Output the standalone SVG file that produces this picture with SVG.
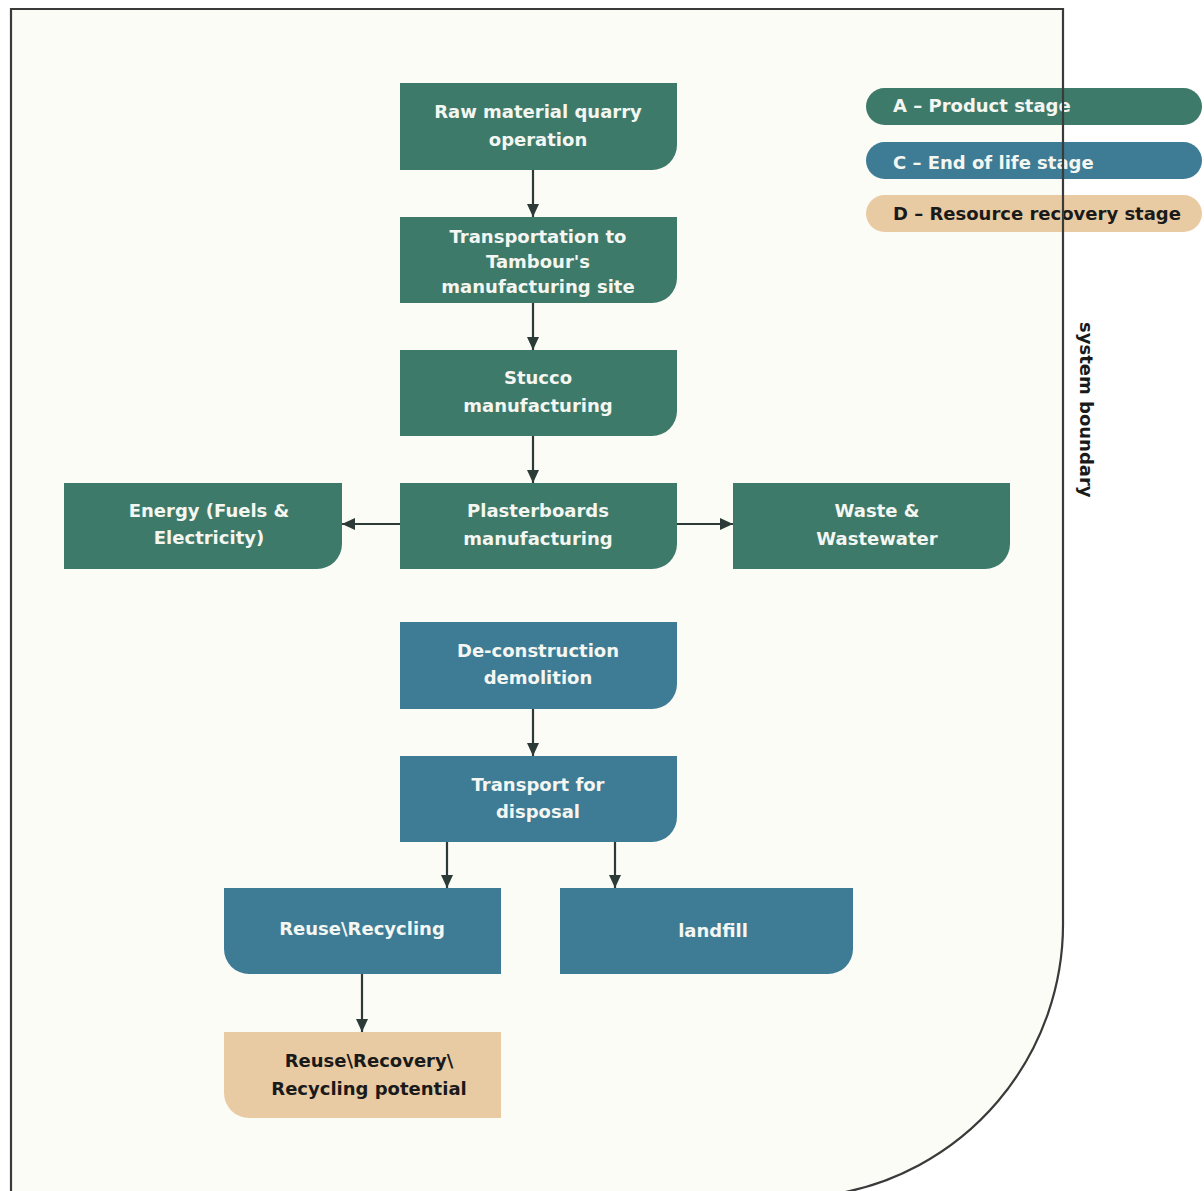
<svg xmlns="http://www.w3.org/2000/svg" width="1204" height="1191" viewBox="0 0 1204 1191">
<defs>
<style>
.g{fill:#3e7a69}
.b{fill:#3e7c95}
.t{fill:#e9cba3}
.lbl{font-family:"DejaVu Sans","Liberation Sans",Arial,sans-serif;font-size:18px;font-weight:700;fill:#f4f6f2;text-anchor:middle}
.leg{font-family:"DejaVu Sans","Liberation Sans",Arial,sans-serif;font-size:18px;font-weight:700;fill:#f4f6f2}
text.dk{fill:#1a1a1a}
.conn{stroke:#2c3b37;stroke-width:2.2;fill:none;marker-end:url(#ah)}
</style>
<marker id="ah" markerUnits="userSpaceOnUse" markerWidth="14" markerHeight="12" refX="13" refY="6" orient="auto">
<path d="M0,0 L13,6 L0,12 z" fill="#2c3b37"/>
</marker>
</defs>
<rect x="0" y="0" width="1204" height="1191" fill="#ffffff"/>
<path d="M11 1195 L11 9 L1063 9 L1063 920 A274 274 0 0 1 829 1195 Z" fill="#fcfcf7" stroke="none"/>

<g id="legend">
<g id="legend-a"><rect class="g" x="866" y="88" width="336" height="37" rx="18.5"/><text class="leg" x="893" y="112">A – Product stage</text></g>
<g id="legend-c"><rect class="b" x="866" y="142" width="336" height="37" rx="18.5"/><text class="leg" x="893" y="169">C – End of life stage</text></g>
<g id="legend-d"><rect class="t" x="866" y="195" width="336" height="37" rx="18.5"/><text class="leg dk" x="893" y="220">D – Resource recovery stage</text></g>
</g>

<g id="boundary">
<path d="M11 1195 L11 9 L1063 9 L1063 920 A274 274 0 0 1 829 1195" fill="none" stroke="#3a3a3a" stroke-width="2.2"/>
<text x="1080" y="322" transform="rotate(90 1080 322)" font-family="'DejaVu Sans','Liberation Sans',Arial,sans-serif" font-size="18" font-weight="700" fill="#1a1a1a">system boundary</text>
</g>

<g id="raw"><path class="g" d="M400 83 H677 V145 A25 25 0 0 1 652 170 H400 Z"/><text class="lbl" x="538" y="118">Raw material quarry</text><text class="lbl" x="538" y="146">operation</text></g>
<g id="transport"><path class="g" d="M400 217 H677 V278 A25 25 0 0 1 652 303 H400 Z"/><text class="lbl" x="538" y="243">Transportation to</text><text class="lbl" x="538" y="268">Tambour's</text><text class="lbl" x="538" y="293">manufacturing site</text></g>
<g id="stucco"><path class="g" d="M400 350 H677 V411 A25 25 0 0 1 652 436 H400 Z"/><text class="lbl" x="538" y="384">Stucco</text><text class="lbl" x="538" y="412">manufacturing</text></g>
<g id="plaster"><path class="g" d="M400 483 H677 V544 A25 25 0 0 1 652 569 H400 Z"/><text class="lbl" x="538" y="517">Plasterboards</text><text class="lbl" x="538" y="545">manufacturing</text></g>
<g id="energy"><path class="g" d="M64 483 H342 V544 A25 25 0 0 1 317 569 H64 Z"/><text class="lbl" x="209" y="517">Energy (Fuels &amp;</text><text class="lbl" x="209" y="544">Electricity)</text></g>
<g id="waste"><path class="g" d="M733 483 H1010 V544 A25 25 0 0 1 985 569 H733 Z"/><text class="lbl" x="877" y="517">Waste &amp;</text><text class="lbl" x="877" y="545">Wastewater</text></g>
<g id="decon"><path class="b" d="M400 622 H677 V684 A25 25 0 0 1 652 709 H400 Z"/><text class="lbl" x="538" y="657">De-construction</text><text class="lbl" x="538" y="684">demolition</text></g>
<g id="disposal"><path class="b" d="M400 756 H677 V817 A25 25 0 0 1 652 842 H400 Z"/><text class="lbl" x="538" y="791">Transport for</text><text class="lbl" x="538" y="818">disposal</text></g>
<g id="reuse"><path class="b" d="M224 888 H501 V974 H249 A25 25 0 0 1 224 949 Z"/><text class="lbl" x="362" y="935">Reuse\Recycling</text></g>
<g id="landfill"><path class="b" d="M560 888 H853 V949 A25 25 0 0 1 828 974 H560 Z"/><text class="lbl" x="713" y="937">landfill</text></g>
<g id="recovery"><path class="t" d="M224 1032 H501 V1118 H249 A25 25 0 0 1 224 1093 Z"/><text class="lbl dk" x="369" y="1067">Reuse\Recovery\</text><text class="lbl dk" x="369" y="1095">Recycling potential</text></g>

<g id="connectors">
<line class="conn" x1="533" y1="170" x2="533" y2="217"/>
<line class="conn" x1="533" y1="303" x2="533" y2="350"/>
<line class="conn" x1="533" y1="436" x2="533" y2="483"/>
<line class="conn" x1="400" y1="524" x2="342" y2="524"/>
<line class="conn" x1="677" y1="524" x2="733" y2="524"/>
<line class="conn" x1="533" y1="709" x2="533" y2="756"/>
<line class="conn" x1="447" y1="842" x2="447" y2="888"/>
<line class="conn" x1="615" y1="842" x2="615" y2="888"/>
<line class="conn" x1="362" y1="974" x2="362" y2="1032"/>
</g>
</svg>
